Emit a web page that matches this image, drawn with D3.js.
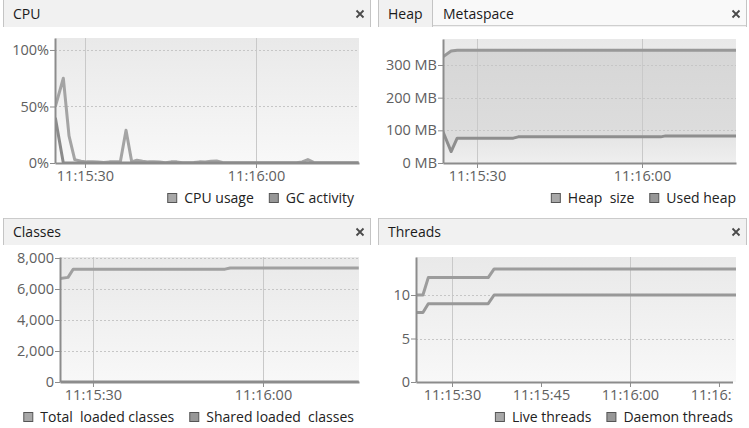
<!DOCTYPE html>
<html>
<head>
<meta charset="utf-8">
<script src="https://cdn.jsdelivr.net/npm/d3@7"></script>
<style>
  body { margin: 0; background: #fff; }
  svg text { font-family: "Open Sans", "Noto Sans", sans-serif; }
</style>
</head>
<body>
<script>
// all sample times are seconds after 11:15:00

// CPU panel
var cpuTimes = [24.8, 26.2, 27.2, 28.2, 29.3, 30.3, 31.3, 32.3, 33.3, 34.3, 35.3, 36.2, 37.2, 38.2, 39.1,
                40.1, 41.1, 42.1, 43.1, 44.1, 45.1, 46.1, 47.1, 48.1, 49.1, 50.1, 51.1, 52.1, 53.1, 54.1,
                55.1, 56.1, 57.1, 58.1, 59.1, 60.1, 61.1, 62.1, 63.1, 64.1, 65.1, 66.1, 67.1, 68.1, 69.1,
                70.1, 71.1, 72.1, 73.1, 74.1, 75.1, 76.1, 77.1, 78.0];
var cpuUsage = [50, 75, 24, 3, 1.5, 1, 1, 0.8, 0.5, 1, 1, 1, 29, 1, 2.5,
                1.5, 1, 1, 0.8, 0.3, 1, 1, 0.3, 0.3, 0.5, 1, 0.8, 1.5, 1.8, 0.5,
                0.3, 0.3, 0.3, 0.3, 0.3, 0.3, 0.3, 0.3, 0.3, 0.3, 0.3, 0.3, 0.3, 1, 3,
                0.5, 0.3, 0.3, 0.3, 0.3, 0.3, 0.3, 0.3, 0.3];
var gcActivity = [40, 0, 0, 0, 0, 0, 0, 0, 0, 0, 0, 0, 0, 0, 0,
                  0, 0, 0, 0, 0, 0, 0, 0, 0, 0, 0, 0, 0, 0, 0,
                  0, 0, 0, 0, 0, 0, 0, 0, 0, 0, 0, 0, 0, 0, 0,
                  0, 0, 0, 0, 0, 0, 0, 0, 0];
var cpuTicks = [0, 50, 100];

// Heap panel (MB)
var heapTimes = [23.8, 25.3, 26.4, 36.6, 37.5, 63.4, 64.3, 77.2];
var heapSize  = [325, 343, 345, 345, 345, 345, 345, 345];
var usedHeap  = [96, 35, 76, 76, 80, 80, 83, 83];
var heapTicks = [0, 100, 200, 300];

// Classes panel
var classTimes    = [24.2, 25.6, 26.5, 53.3, 54.2, 76.9];
var totalClasses  = [6680, 6750, 7280, 7280, 7360, 7360];
var sharedClasses = [0, 0, 0, 0, 0, 0];
var classTicks = [0, 2000, 4000, 6000, 8000];

// Threads panel
var threadTimes   = [23.9, 25.1, 26.0, 36.1, 37.1, 77.9];
var liveThreads   = [10, 10, 12, 12, 13, 13];
var daemonThreads = [8, 8, 9, 9, 10, 10];
var threadTicks = [0, 5, 10];

var W = 749, H = 428;

var svg = d3.select("body").append("svg")
    .attr("width", W)
    .attr("height", H);

var defs = svg.append("defs");
function gradient(id, top, bottom) {
  var lg = defs.append("linearGradient").attr("id", id)
      .attr("x1", 0).attr("y1", 0).attr("x2", 0).attr("y2", 1);
  lg.append("stop").attr("offset", "0%").attr("stop-color", top);
  lg.append("stop").attr("offset", "100%").attr("stop-color", bottom);
}
gradient("plotBg", "#e9e9e9", "#f8f8f8");
gradient("heapFill", "#d6d6d6", "#dfdfdf");
gradient("usedFill", "#e3e3e3", "#efefef");

function timeOf(s) {
  return new Date(2024, 0, 1, 11, 15, 0, Math.round(s * 1000));
}

// panel header bars
function header(x0, x1, y0, tabs, withTop) {
  var g = svg.append("g");
  g.append("rect").attr("x", x0).attr("y", y0).attr("width", x1 - x0).attr("height", 27)
      .attr("fill", "#f1f1f1");
  tabs.forEach(function(t, i) {
    if (i > 0) {
      g.append("rect").attr("x", t.x - 10).attr("y", y0).attr("width", x1 - t.x + 10).attr("height", 26)
          .attr("fill", "#f9f9f9");
      g.append("line").attr("x1", t.x - 10.5).attr("x2", t.x - 10.5).attr("y1", y0).attr("y2", y0 + 27)
          .attr("stroke", "#c4c4c4");
      g.append("line").attr("x1", t.x - 10).attr("x2", x1).attr("y1", y0 + 25.5).attr("y2", y0 + 25.5)
          .attr("stroke", "#cfcfcf");
    }
    g.append("text").attr("x", t.x).attr("y", y0 + 19)
        .attr("font-size", 14).attr("fill", "#1a1a1a").text(t.label);
  });
  if (withTop) {
    g.append("line").attr("x1", x0).attr("x2", x1).attr("y1", y0 + 0.5).attr("y2", y0 + 0.5)
        .attr("stroke", "#cbcbcb");
  }
  g.append("line").attr("x1", x0 + 0.5).attr("x2", x0 + 0.5).attr("y1", y0).attr("y2", y0 + 27)
      .attr("stroke", "#c4c4c4");
  g.append("line").attr("x1", x1 - 0.5).attr("x2", x1 - 0.5).attr("y1", y0).attr("y2", y0 + 27)
      .attr("stroke", "#c4c4c4");
  // close cross
  var cx = x1 - 11, cy = y0 + 14;
  g.append("path")
      .attr("d", "M" + (cx - 3.5) + "," + (cy - 3.5) + "L" + (cx + 3.5) + "," + (cy + 3.5) +
                 "M" + (cx + 3.5) + "," + (cy - 3.5) + "L" + (cx - 3.5) + "," + (cy + 3.5))
      .attr("stroke", "#4a4a4a").attr("stroke-width", 1.8);
}

header(3, 371, 0, [{label: "CPU", x: 13}], false);
header(378, 747, 0, [{label: "Heap", x: 388}, {label: "Metaspace", x: 443}], false);
header(3, 371, 218, [{label: "Classes", x: 13}], true);
header(378, 747, 218, [{label: "Threads", x: 388}], true);

var clipId = 0;

function drawPanel(p) {
  var g = svg.append("g");
  var x = d3.scaleTime()
      .domain([timeOf(p.t0), timeOf(p.t1)])
      .range([p.left, p.right]);
  var y = d3.scaleLinear()
      .domain([0, p.yMax])
      .range([p.bottom, p.top]);

  clipId++;
  var cid = "clip" + clipId;
  defs.append("clipPath").attr("id", cid).append("rect")
      .attr("x", p.left).attr("y", p.top)
      .attr("width", p.right - p.left).attr("height", p.bottom - p.top);

  g.append("rect")
      .attr("x", p.left).attr("y", p.top)
      .attr("width", p.right - p.left).attr("height", p.bottom - p.top)
      .attr("fill", "url(#plotBg)");

  var plot = g.append("g").attr("clip-path", "url(#" + cid + ")");

  // filled areas (heap chart only)
  (p.areas || []).forEach(function(a) {
    var area = d3.area()
        .x(function(d, i) { return x(timeOf(p.times[i])); })
        .y0(p.bottom)
        .y1(function(d) { return y(d); });
    plot.append("path").datum(a.values).attr("d", area).attr("fill", a.fill);
  });

  // grid
  plot.append("g").selectAll("line")
      .data(x.ticks(d3.timeSecond.every(30)))
      .join("line")
      .attr("x1", function(d) { return Math.round(x(d)) + 0.5; })
      .attr("x2", function(d) { return Math.round(x(d)) + 0.5; })
      .attr("y1", p.top).attr("y2", p.bottom)
      .attr("stroke", "#c9c9c9");
  plot.append("g").selectAll("line")
      .data(p.yTicks.filter(function(d) { return d > 0; }))
      .join("line")
      .attr("x1", p.left).attr("x2", p.right)
      .attr("y1", function(d) { return Math.round(y(d)) + 0.5; })
      .attr("y2", function(d) { return Math.round(y(d)) + 0.5; })
      .attr("stroke", "#c6c6c6")
      .attr("stroke-dasharray", "2,2");

  // series
  p.series.forEach(function(s) {
    var line = d3.line()
        .x(function(d, i) { return x(timeOf(p.times[i])); })
        .y(function(d) { return y(d); });
    plot.append("path").datum(s.values)
        .attr("d", line)
        .attr("fill", "none")
        .attr("stroke", s.color)
        .attr("stroke-width", 3)
        .attr("stroke-linejoin", "round");
  });

  // axes
  var xAxis = g.append("g")
      .attr("transform", "translate(0," + p.bottom + ")")
      .call(d3.axisBottom(x)
          .ticks(d3.timeSecond.every(p.xStep))
          .tickFormat(d3.timeFormat("%H:%M:%S"))
          .tickSize(5)
          .tickSizeOuter(0));
  if (p.labelClip) {
    clipId++;
    defs.append("clipPath").attr("id", "clip" + clipId).append("rect")
        .attr("x", 0).attr("y", -10).attr("width", p.labelClip).attr("height", 40);
    xAxis.attr("clip-path", "url(#clip" + clipId + ")");
  }
  var yAxis = g.append("g")
      .attr("transform", "translate(" + p.left + ",0)")
      .call(d3.axisLeft(y)
          .tickValues(p.yTicks)
          .tickFormat(p.fmt)
          .tickSize(5)
          .tickPadding(1)
          .tickSizeOuter(0));
  [xAxis, yAxis].forEach(function(a) {
    a.select(".domain").attr("stroke", "#8c8c8c").attr("stroke-width", 2);
    a.selectAll(".tick line").attr("stroke", "#8c8c8c");
    a.selectAll(".tick text")
        .attr("fill", "#606060")
        .attr("font-size", 14.5)
        .attr("font-family", "'Open Sans', 'Noto Sans', sans-serif");
  });

  // legend, right aligned
  var lg = g.append("g");
  var cursor = p.legendRight;
  p.series.slice().reverse().forEach(function(s) {
    var t = lg.append("text")
        .attr("y", p.legendY + 5)
        .attr("font-size", 14)
        .attr("fill", "#222")
        .style("white-space", "pre")
        .text(s.label);
    var w = t.node().getComputedTextLength();
    t.attr("x", cursor - w);
    lg.append("rect")
        .attr("x", cursor - w - 16.5).attr("y", p.legendY - 4.5)
        .attr("width", 9).attr("height", 9)
        .attr("fill", s.swatch).attr("stroke", "#555");
    cursor = cursor - w - 16 - 16;
  });
}

drawPanel({
  times: cpuTimes, t0: 24.74, t1: 78.07,
  left: 55, right: 359, top: 38, bottom: 163,
  yMax: 110.6, yTicks: cpuTicks, fmt: function(d) { return d + "%"; },
  xStep: 30,
  series: [
    {label: "CPU usage", values: cpuUsage, color: "#a4a4a4", swatch: "#a8a8a8"},
    {label: "GC activity", values: gcActivity, color: "#8a8a8a", swatch: "#979797"}
  ],
  legendRight: 354, legendY: 198
});

drawPanel({
  times: heapTimes, t0: 23.82, t1: 77.09,
  left: 443, right: 736, top: 39, bottom: 163,
  yMax: 379.6, yTicks: heapTicks, fmt: function(d) { return d + " MB"; },
  xStep: 30,
  areas: [
    {values: heapSize, fill: "url(#heapFill)"},
    {values: usedHeap, fill: "url(#usedFill)"}
  ],
  series: [
    {label: "Heap  size", values: heapSize, color: "#989898", swatch: "#a8a8a8"},
    {label: "Used heap", values: usedHeap, color: "#8e8e8e", swatch: "#979797"}
  ],
  legendRight: 736, legendY: 198
});

drawPanel({
  times: classTimes, t0: 24.18, t1: 76.94,
  left: 60, right: 359, top: 257, bottom: 382,
  yMax: 8065, yTicks: classTicks, fmt: d3.format(","),
  xStep: 30,
  series: [
    {label: "Total  loaded classes", values: totalClasses, color: "#a0a0a0", swatch: "#a8a8a8"},
    {label: "Shared loaded  classes", values: sharedClasses, color: "#8c8c8c", swatch: "#979797"}
  ],
  legendRight: 354, legendY: 417
});

drawPanel({
  times: threadTimes, t0: 23.93, t1: 77.87,
  left: 416, right: 736, top: 257, bottom: 382,
  yMax: 14.37, yTicks: threadTicks, fmt: d3.format("d"),
  xStep: 15, labelClip: 733,
  series: [
    {label: "Live threads", values: liveThreads, color: "#9c9c9c", swatch: "#a8a8a8"},
    {label: "Daemon threads", values: daemonThreads, color: "#989898", swatch: "#979797"}
  ],
  legendRight: 733, legendY: 417
});
</script>
</body>
</html>
